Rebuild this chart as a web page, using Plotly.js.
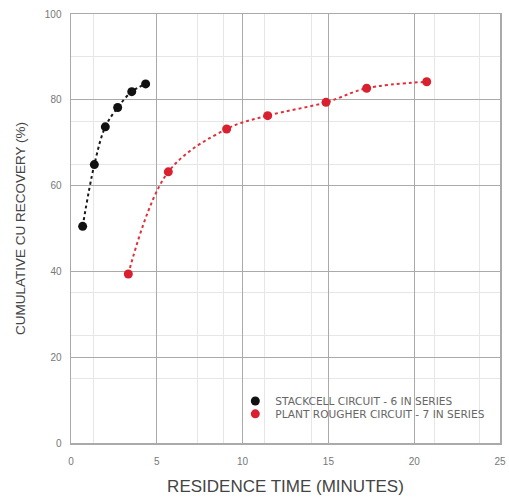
<!DOCTYPE html>
<html>
<head>
<meta charset="utf-8">
<script src="https://cdn.plot.ly/plotly-3.0.1.min.js"></script>
<style>html,body{margin:0;padding:0;background:#fff;}#chart{width:509px;height:498px;}</style>
</head>
<body>
<div id="chart"></div>
<script>
const stackcellTime = [0.68, 1.36, 2.0, 2.72, 3.54, 4.35];
const stackcellRecovery = [50.5, 64.9, 73.7, 78.2, 81.9, 83.7];
const plantTime = [3.34, 5.67, 9.07, 11.46, 14.86, 17.23, 20.73];
const plantRecovery = [39.4, 63.2, 73.2, 76.3, 79.4, 82.7, 84.2];
const seriesNames = ["STACKCELL CIRCUIT - 6 IN SERIES", "PLANT ROUGHER CIRCUIT - 7 IN SERIES"];
const xTickVals = [0, 5, 10, 15, 20, 25];
const yTickVals = [0, 20, 40, 60, 80, 100];

const colors = ["#111111", "#d9202e"];
const lineColors = ["#1a1a1a", "#e0303a"];
const xs = [stackcellTime, plantTime];
const ys = [stackcellRecovery, plantRecovery];
const legendIds = ["legend", "legend2"];

const traces = [];
for (let i = 0; i < 2; i++) {
  traces.push({x: xs[i], y: ys[i], mode: "lines", type: "scatter", showlegend: false,
    line: {color: lineColors[i], width: 2, dash: "dot", shape: "spline"}});
}
for (let i = 0; i < 2; i++) {
  traces.push({x: xs[i], y: ys[i], name: seriesNames[i], mode: "markers", type: "scatter",
    legend: legendIds[i], marker: {color: colors[i], size: 9}});
}

const legendStyle = {xanchor: "left", yanchor: "middle", bgcolor: "rgba(255,255,255,0)",
  font: {size: 10.6, color: "#666", family: "DejaVu Sans, sans-serif"}, itemwidth: 30};

const layout = {
  width: 509, height: 498,
  margin: {l: 71, r: 9, t: 14, b: 55},
  paper_bgcolor: "#fff", plot_bgcolor: "#fff",
  font: {family: "Liberation Sans, Arial, sans-serif", color: "#555"},
  showlegend: true,
  legend: Object.assign({x: 0.383, y: 0.098}, legendStyle),
  legend2: Object.assign({x: 0.383, y: 0.068}, legendStyle),
  xaxis: {range: [0, 25], tickvals: xTickVals, ticks: "", showline: true, mirror: true,
          linecolor: "#aaa", linewidth: 1.5, gridcolor: "#aaa", gridwidth: 1, zeroline: false,
          tickfont: {size: 10, color: "#777"}, ticklabelstandoff: 8,
          minor: {tickvals: [1.3, 7.4, 8.9, 11.3, 14.0, 21.2, 23.8], showgrid: true, gridcolor: "#e6e6e6", gridwidth: 1},
          title: {text: "RESIDENCE TIME (MINUTES)", font: {size: 17, color: "#444"}, standoff: 14}},
  yaxis: {range: [0, 100], tickvals: yTickVals, ticks: "", showline: true, mirror: true,
          linecolor: "#aaa", linewidth: 1.5, gridcolor: "#aaa", gridwidth: 1, zeroline: false,
          tickfont: {size: 10, color: "#777"}, ticklabelstandoff: 6,
          minor: {tickvals: [15, 25, 35, 65, 75, 90], showgrid: true, gridcolor: "#e6e6e6", gridwidth: 1},
          title: {text: "CUMULATIVE CU RECOVERY (%)", font: {size: 13.5, color: "#444"}, standoff: 16}}
};

Plotly.newPlot("chart", traces, layout, {displayModeBar: false, staticPlot: true});
</script>
</body>
</html>
